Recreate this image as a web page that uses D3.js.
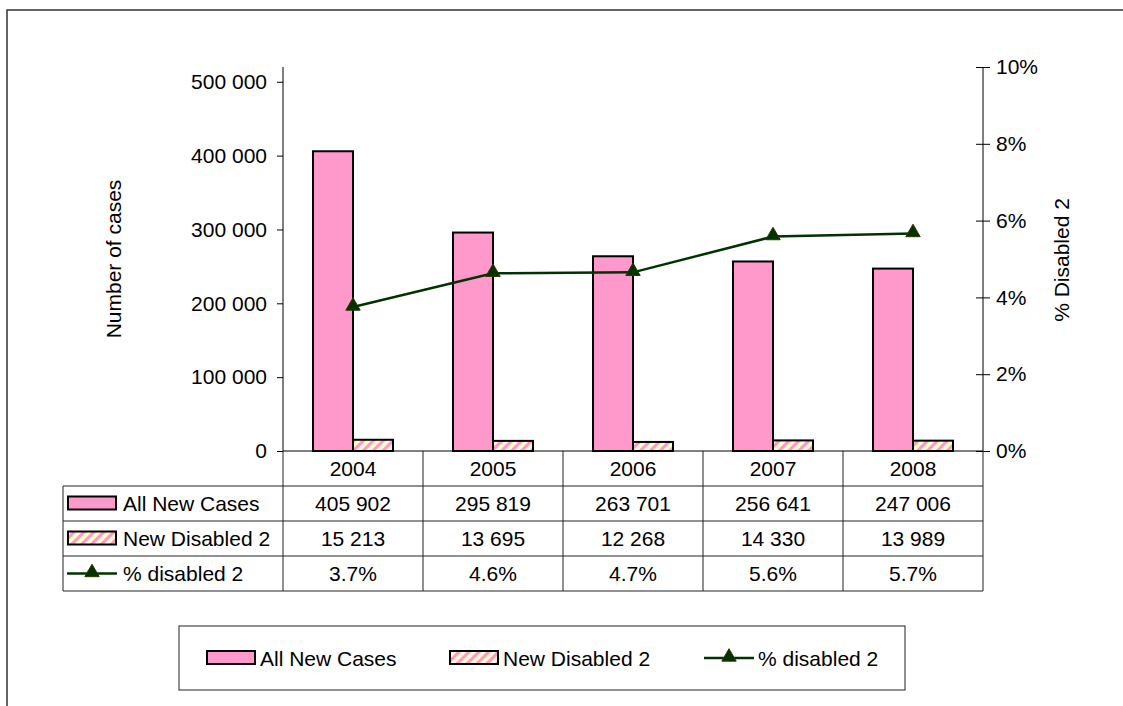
<!DOCTYPE html>
<html>
<head>
<meta charset="utf-8">
<title>New cases and % disabled 2, 2004-2008</title>
<script src="https://cdn.jsdelivr.net/npm/d3@7"></script>
<style>
    body { margin: 0; background: #fff; }
    svg { font-family: 'Liberation Sans', Arial, sans-serif; }
    .axis text, .cell, .lbl { font-size: 21px; fill: #000; }
    .axis path, .axis line { stroke: #000; stroke-width: 1px; }
    .grid { stroke: #222; stroke-width: 1px; }
</style>
</head>
<body>
<svg id="chart" width="1123" height="706"></svg>
<script>
    // data
    var years = ["2004", "2005", "2006", "2007", "2008"];
    var allNewCases = [405902, 295819, 263701, 256641, 247006];
    var newDisabled2 = [15213, 13695, 12268, 14330, 13989];
    var pctDisabled2 = [3.748, 4.629, 4.652, 5.584, 5.663];
    var leftTicks = [0, 100000, 200000, 300000, 400000, 500000];
    var rightTicks = [0, 2, 4, 6, 8, 10];
    var seriesNames = ["All New Cases", "New Disabled 2", "% disabled 2"];

    var pink = "#ff99cc", pale = "#ffffcc", lineCol = "#003300";

    var svg = d3.select("#chart");

    // plot box
    var plotL = 283, plotR = 983, plotT = 67, plotB = 451;

    var x = d3.scaleBand().domain(years).range([plotL, plotR]);
    var yL = d3.scaleLinear().domain([0, 520000]).range([plotB, plotT]);
    var yR = d3.scaleLinear().domain([0, 10]).range([plotB, plotT]);

    var loc = d3.formatLocale({ decimal: ".", thousands: " ", grouping: [3], currency: ["", ""] });
    var fmtNum = loc.format(",d");

    // hatch pattern for New Disabled 2
    var defs = svg.append("defs");
    var pat = defs.append("pattern")
        .attr("id", "hatch")
        .attr("patternUnits", "userSpaceOnUse")
        .attr("width", 7).attr("height", 7)
        .attr("patternTransform", "rotate(45)");
    pat.append("rect").attr("width", 7).attr("height", 7).attr("fill", pale);
    pat.append("rect").attr("width", 3.2).attr("height", 7).attr("fill", pink);

    // outer frame (only top and left edges are in view)
    svg.append("path")
        .attr("d", "M7,706V10H1123")
        .attr("fill", "none").attr("stroke", "#333").attr("stroke-width", 1.5);

    // bars
    var bw = 40;
    svg.append("g").selectAll("rect")
        .data(years)
        .join("rect")
        .attr("x", d => x(d) + x.bandwidth() / 2 - bw)
        .attr("y", (d, i) => yL(allNewCases[i]))
        .attr("width", bw)
        .attr("height", (d, i) => yL(0) - yL(allNewCases[i]))
        .attr("fill", pink).attr("stroke", "#000").attr("stroke-width", 2);

    svg.append("g").selectAll("rect")
        .data(years)
        .join("rect")
        .attr("x", d => x(d) + x.bandwidth() / 2)
        .attr("y", (d, i) => yL(newDisabled2[i]))
        .attr("width", bw)
        .attr("height", (d, i) => yL(0) - yL(newDisabled2[i]))
        .attr("fill", "url(#hatch)").attr("stroke", "#000").attr("stroke-width", 2);

    // left axis
    var gL = svg.append("g").attr("class", "axis")
        .attr("transform", `translate(${plotL},0)`)
        .call(d3.axisLeft(yL).tickValues(leftTicks).tickFormat(fmtNum)
            .tickSize(6).tickSizeOuter(0).tickPadding(10));
    gL.select(".domain").attr("d", `M0,${plotB}V${plotT}`);
    gL.selectAll("text").attr("font-family", null).attr("font-size", null);

    // right axis, ticks cross the line
    var gR = svg.append("g").attr("class", "axis")
        .attr("transform", `translate(${plotR},0)`)
        .call(d3.axisRight(yR).tickValues(rightTicks).tickFormat(d => d + "%")
            .tickSize(7).tickSizeOuter(0).tickPadding(6));
    gR.select(".domain").attr("d", `M0,${plotB}V${plotT}`);
    gR.selectAll(".tick line").attr("x1", -7);
    gR.selectAll("text").attr("font-family", null).attr("font-size", null);

    // category line along zero
    svg.append("line")
        .attr("x1", plotL).attr("x2", plotR).attr("y1", plotB).attr("y2", plotB)
        .attr("stroke", "#000").attr("stroke-width", 1);

    // axis titles
    svg.append("text").attr("class", "lbl")
        .attr("transform", "translate(121,259) rotate(-90)")
        .attr("text-anchor", "middle").text("Number of cases");
    svg.append("text").attr("class", "lbl")
        .attr("transform", "translate(1069,260) rotate(-90)")
        .attr("text-anchor", "middle").text("% Disabled 2");

    // % line with triangle markers
    var line = d3.line()
        .x((d, i) => x(years[i]) + x.bandwidth() / 2)
        .y(d => yR(d));
    svg.append("path")
        .datum(pctDisabled2)
        .attr("d", line)
        .attr("fill", "none").attr("stroke", lineCol).attr("stroke-width", 2.5);

    var tri = d3.symbol().type(d3.symbolTriangle).size(90);
    svg.append("g").selectAll("path")
        .data(pctDisabled2)
        .join("path")
        .attr("transform", (d, i) => `translate(${x(years[i]) + x.bandwidth() / 2},${yR(d) - 1})`)
        .attr("d", tri)
        .attr("fill", lineCol).attr("stroke", "#333300").attr("stroke-width", 1);

    // data table
    var tLeft = 63, rowH = 35, headTop = plotB;
    var rowTops = [headTop + rowH, headTop + 2 * rowH, headTop + 3 * rowH, headTop + 4 * rowH];
    var table = svg.append("g");

    rowTops.forEach(function (ry) {
        table.append("line").attr("class", "grid")
            .attr("x1", tLeft).attr("x2", plotR).attr("y1", ry).attr("y2", ry);
    });
    table.append("line").attr("class", "grid")
        .attr("x1", tLeft).attr("x2", tLeft).attr("y1", rowTops[0]).attr("y2", rowTops[3]);
    years.forEach(function (yr) {
        table.append("line").attr("class", "grid")
            .attr("x1", x(yr) + x.bandwidth()).attr("x2", x(yr) + x.bandwidth())
            .attr("y1", headTop).attr("y2", rowTops[3]);
    });
    table.append("line").attr("class", "grid")
        .attr("x1", plotL).attr("x2", plotL).attr("y1", headTop).attr("y2", rowTops[3]);

    // header years
    table.append("g").selectAll("text")
        .data(years)
        .join("text")
        .attr("class", "cell")
        .attr("x", d => x(d) + x.bandwidth() / 2)
        .attr("y", headTop + rowH / 2)
        .attr("dy", "0.36em")
        .attr("text-anchor", "middle")
        .text(d => d);

    var rows = [
        allNewCases.map(fmtNum),
        newDisabled2.map(fmtNum),
        pctDisabled2.map(v => v.toFixed(1) + "%")
    ];
    rows.forEach(function (vals, r) {
        table.append("g").selectAll("text")
            .data(vals)
            .join("text")
            .attr("class", "cell")
            .attr("x", (d, i) => x(years[i]) + x.bandwidth() / 2)
            .attr("y", rowTops[r] + rowH / 2)
            .attr("dy", "0.36em")
            .attr("text-anchor", "middle")
            .text(d => d);
    });

    // legend key drawing, shared by table rows and legend box
    function key(g, k, kx, cy) {
        if (k < 2) {
            g.append("rect")
                .attr("x", kx + 1).attr("y", cy - 7)
                .attr("width", 48).attr("height", 13)
                .attr("fill", k === 0 ? pink : "url(#hatch)")
                .attr("stroke", "#000").attr("stroke-width", 2);
        } else {
            g.append("line")
                .attr("x1", kx).attr("x2", kx + 50).attr("y1", cy).attr("y2", cy)
                .attr("stroke", lineCol).attr("stroke-width", 2.5);
            g.append("path")
                .attr("transform", `translate(${kx + 25},${cy - 1})`)
                .attr("d", tri)
                .attr("fill", lineCol).attr("stroke", "#333300").attr("stroke-width", 1);
        }
    }

    seriesNames.forEach(function (name, k) {
        var cy = rowTops[k] + rowH / 2;
        key(table, k, 67, cy);
        table.append("text").attr("class", "cell")
            .attr("x", 123).attr("y", cy).attr("dy", "0.36em").text(name);
    });

    // legend box
    var legend = svg.append("g");
    legend.append("rect")
        .attr("x", 179).attr("y", 626).attr("width", 726).attr("height", 64)
        .attr("fill", "#fff").attr("stroke", "#222").attr("stroke-width", 1);
    var legX = [206, 449, 704];
    seriesNames.forEach(function (name, k) {
        key(legend, k, legX[k], 658);
        legend.append("text").attr("class", "cell")
            .attr("x", legX[k] + 54).attr("y", 658).attr("dy", "0.36em").text(name);
    });
</script>
</body>
</html>
